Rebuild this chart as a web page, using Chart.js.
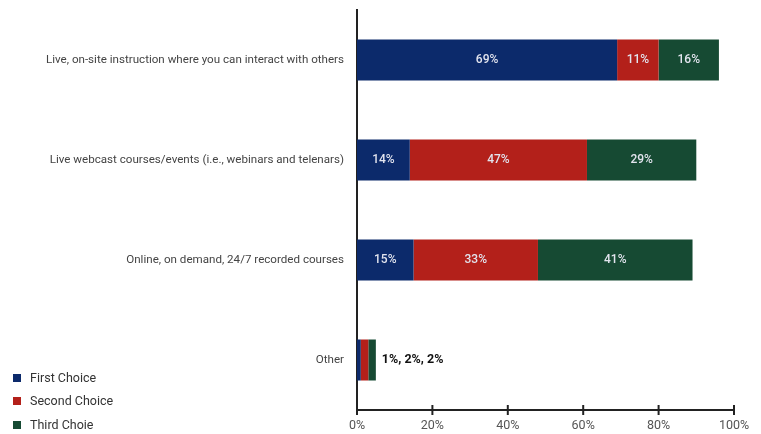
<!DOCTYPE html>
<html>
<head>
<meta charset="utf-8">
<script src="https://cdn.jsdelivr.net/npm/chart.js@4/dist/chart.umd.min.js"></script>
<style>
  html, body { margin: 0; padding: 0; background: #fff; }
  #wrap { position: relative; width: 761px; height: 434px; }
  #legend {
    position: absolute; left: 13px; top: 366px;
    font-family: Roboto, "Liberation Sans", sans-serif;
    font-size: 12.5px; color: #333;
  }
  #legend div { height: 23.5px; line-height: 20px; display: flex; align-items: center; }
  #legend span.box { display: inline-block; width: 8px; height: 8px; margin-right: 9px; }
</style>
</head>
<body>
<div id="wrap">
  <canvas id="chart" width="761" height="434"></canvas>
  <div id="legend"></div>
</div>
<script>
const categories = [
    'Live, on-site instruction where you can interact with others',
    'Live webcast courses/events (i.e., webinars and telenars)',
    'Online, on demand, 24/7 recorded courses',
    'Other'
];
const seriesNames = ['First Choice', 'Second Choice', 'Third Choie'];
const firstChoice = [69, 14, 15, 1];
const secondChoice = [11, 47, 33, 2];
const thirdChoice = [16, 29, 41, 2];
const xTicks = [0, 20, 40, 60, 80, 100];

const colors = ['#0c2a6b', '#b3201a', '#164a33'];
const FONT = 'Roboto, "Liberation Sans", sans-serif';

// writes the percentages onto the segments, or after the stack when it is too thin
const segmentLabels = {
    id: 'segmentLabels',
    afterDatasetsDraw(chart) {
        const ctx = chart.ctx;
        ctx.save();
        ctx.textBaseline = 'middle';
        categories.forEach((cat, i) => {
            const metas = chart.data.datasets.map((d, k) => chart.getDatasetMeta(k));
            const bars = metas.map(m => m.data[i]);
            const narrow = bars.some(b => Math.abs(b.x - b.base) < 20);
            if (narrow) {
                const last = bars[bars.length - 1];
                const text = chart.data.datasets.map(d => d.data[i] + '%').join(', ');
                ctx.fillStyle = '#111';
                ctx.textAlign = 'left';
                ctx.font = 'bold 12.5px ' + FONT;
                ctx.fillText(text, last.x + 6, last.y);
            } else {
                ctx.font = '500 12px ' + FONT;
                bars.forEach((b, k) => {
                    ctx.fillStyle = '#e2e4ee';
                    ctx.textAlign = 'center';
                    ctx.fillText(chart.data.datasets[k].data[i] + '%', (b.x + b.base) / 2, b.y);
                });
            }
        });
        ctx.restore();
    }
};

// tick marks that cross the x axis line
const crossTicks = {
    id: 'crossTicks',
    afterDraw(chart) {
        const ctx = chart.ctx;
        const x = chart.scales.x;
        const y0 = chart.chartArea.bottom;
        ctx.save();
        ctx.strokeStyle = '#222';
        ctx.lineWidth = 2;
        xTicks.forEach(v => {
            const px = x.getPixelForValue(v);
            ctx.beginPath();
            ctx.moveTo(px, y0 - 5);
            ctx.lineTo(px, y0 + 5);
            ctx.stroke();
        });
        ctx.restore();
    }
};

const datasets = [firstChoice, secondChoice, thirdChoice].map((vals, k) => ({
    label: seriesNames[k],
    data: vals,
    backgroundColor: colors[k],
    barPercentage: 0.41,
    categoryPercentage: 1
}));

new Chart(document.getElementById('chart'), {
    type: 'bar',
    data: { labels: categories, datasets: datasets },
    options: {
        indexAxis: 'y',
        responsive: false,
        animation: false,
        layout: { padding: { top: 10, right: 27, left: 0, bottom: 0 } },
        plugins: {
            legend: { display: false },
            tooltip: { enabled: false }
        },
        scales: {
            x: {
                stacked: true,
                min: 0,
                max: 100,
                afterBuildTicks(scale) {
                    scale.ticks = xTicks.map(v => ({ value: v }));
                },
                afterFit(scale) { scale.height = 24; },
                grid: { display: false, drawTicks: false },
                border: { display: true, color: '#222', width: 2 },
                ticks: {
                    padding: 8,
                    color: '#555',
                    font: { family: FONT, size: 12.5 },
                    callback: v => v + '%'
                }
            },
            y: {
                stacked: true,
                afterFit(scale) {
                    scale.width = 357;
                    scale.paddingTop = 0;
                    scale.paddingBottom = 0;
                },
                grid: { display: false, drawTicks: false },
                border: { display: true, color: '#222', width: 2 },
                ticks: {
                    padding: 13,
                    color: '#444',
                    font: { family: FONT, size: 11.6 }
                }
            }
        }
    },
    plugins: [segmentLabels, crossTicks]
});

const legend = document.getElementById('legend');
seriesNames.forEach((name, k) => {
    const row = document.createElement('div');
    row.innerHTML = '<span class="box" style="background:' + colors[k] + '"></span>' + name;
    legend.appendChild(row);
});
</script>
</body>
</html>
